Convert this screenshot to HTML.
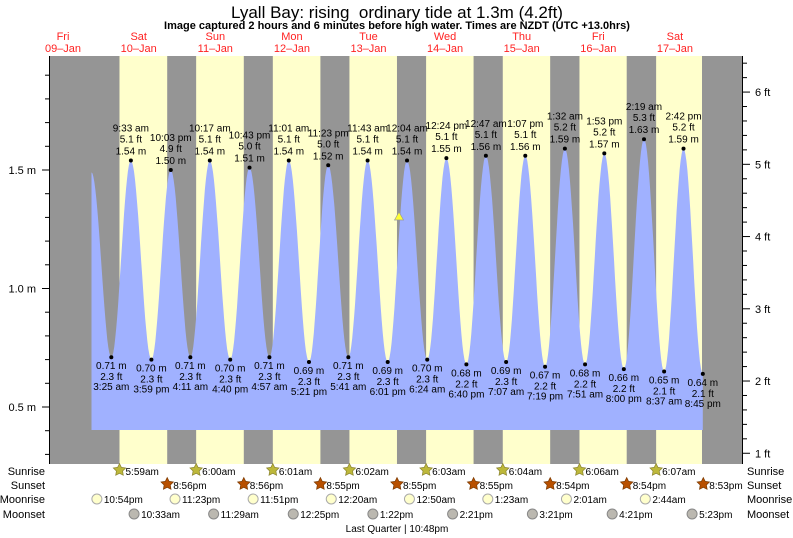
<!DOCTYPE html>
<html><head><meta charset="utf-8"><style>
body{margin:0;background:#fff;width:793px;height:538px;overflow:hidden}
svg{display:block;font-family:"Liberation Sans",sans-serif}
</style></head><body>
<svg id="s" width="793" height="538" xmlns="http://www.w3.org/2000/svg"></svg>
<script>
var S=document.getElementById('s');var h='';
var X0=100.4,PD=76.6;
function X(d,hr){return X0+d*PD+hr*PD/24;}
function Y(m){return 170+(1.5-m)*237;}
function t(x,y,s,o){o=o||{};h+='<text x="'+x+'" y="'+y+'" font-size="'+(o.fs||10)+'" fill="'+(o.c||'#000')+'" text-anchor="'+(o.a||'middle')+'"'+(o.b?' font-weight="bold"':'')+'>'+s+'</text>';}
h+='<rect x="50" y="56" width="692" height="408" fill="#959595"/>';
var sr=[5.98,6,6.02,6.03,6.05,6.07,6.1,6.12],ss=[20.93,20.93,20.93,20.92,20.92,20.92,20.9,20.9];
for(var d=0;d<8;d++){var a=X(d,sr[d]),b=Math.min(X(d,ss[d]),702);h+='<rect x="'+a+'" y="56" width="'+(b-a)+'" height="408" fill="#ffffcc"/>';}
var ex=[[-1,21.2,1.49],[0,3.42,.71],[0,9.55,1.54],[0,15.98,.70],[0,22.05,1.50],[1,4.18,.71],[1,10.28,1.54],[1,16.67,.70],[1,22.72,1.51],[2,4.95,.71],[2,11.02,1.54],[2,17.35,.69],[2,23.38,1.52],[3,5.68,.71],[3,11.72,1.54],[3,18.02,.69],[4,0.07,1.54],[4,6.4,.70],[4,12.4,1.55],[4,18.67,.68],[5,0.78,1.56],[5,7.12,.69],[5,13.12,1.56],[5,19.32,.67],[6,1.53,1.59],[6,7.85,.68],[6,13.88,1.57],[6,20,.66],[7,2.32,1.63],[7,8.62,.65],[7,14.7,1.59],[7,20.75,.64]];
var p='M'+X(ex[0][0],ex[0][1]).toFixed(1)+',430';
for(var i=0;i<ex.length-1;i++){var x1=X(ex[i][0],ex[i][1]),x2=X(ex[i+1][0],ex[i+1][1]),v1=ex[i][2],v2=ex[i+1][2];
for(var k=0;k<=20;k++){var f=k/20,x=x1+(x2-x1)*f,v=v1+(v2-v1)*(1-Math.cos(Math.PI*f))/2;p+=' L'+x.toFixed(1)+','+Y(v).toFixed(1);}}
p+=' L'+X(7,20.75).toFixed(1)+',430 Z';
h+='<path d="'+p+'" fill="#a0b1ff"/>';
var tm=['','3:25 am','9:33 am','3:59 pm','10:03 pm','4:11 am','10:17 am','4:40 pm','10:43 pm','4:57 am','11:01 am','5:21 pm','11:23 pm','5:41 am','11:43 am','6:01 pm','12:04 am','6:24 am','12:24 pm','6:40 pm','12:47 am','7:07 am','1:07 pm','7:19 pm','1:32 am','7:51 am','1:53 pm','8:00 pm','2:19 am','8:37 am','2:42 pm','8:45 pm'];
for(var i=1;i<ex.length;i++){var x=X(ex[i][0],ex[i][1]),v=ex[i][2],y=Y(v),ft=(v/0.3048).toFixed(1);
h+='<circle cx="'+x+'" cy="'+y+'" r="2" fill="#000"/>';
if(v>1){t(x,y-29,tm[i]);t(x,y-18,ft+' ft');t(x,y-6,v.toFixed(2)+' m');}
else{t(x,y+12,v.toFixed(2)+' m');t(x,y+23,ft+' ft');t(x,y+33,tm[i]);}}
h+='<polygon points="399,212 394.5,220 403.5,220" fill="#ffff33" stroke="#999" stroke-width="0.7"/>';
h+='<line x1="49.5" y1="56" x2="49.5" y2="464" stroke="#000"/><line x1="742.5" y1="56" x2="742.5" y2="464" stroke="#000"/>';
for(var m=0.3;m<=1.95;m+=0.1){var y=Y(m);if(y<56||y>464)continue;h+='<line x1="45" y1="'+y+'" x2="49" y2="'+y+'" stroke="#000"/>';}
[[1.5,'1.5 m'],[1.0,'1.0 m'],[0.5,'0.5 m']].forEach(function(a){var y=Y(a[0]);h+='<line x1="42" y1="'+y+'" x2="49" y2="'+y+'" stroke="#000"/>';t(36,y+4,a[1],{fs:11,a:'end'});});
for(var f=0.8;f<=6.5;f+=0.2){var y=Y(f*0.3048);if(y<56||y>464)continue;var maj=Math.abs(f-Math.round(f))<0.01;
h+='<line x1="743" y1="'+y+'" x2="'+(maj?750:747)+'" y2="'+y+'" stroke="#000"/>';if(maj)t(755,y+4,Math.round(f)+' ft',{fs:11,a:'start'});}
t(397,18,'Lyall Bay: rising&#160; ordinary tide at 1.3m (4.2ft)',{fs:17});
t(397,29,'Image captured 2 hours and 6 minutes before high water. Times are NZDT (UTC +13.0hrs)',{fs:11,b:1});
var dn=['Fri','Sat','Sun','Mon','Tue','Wed','Thu','Fri','Sat'];
for(var d=0;d<9;d++){var x=X(d-1,12);if(d==0)x=63;t(x,40,dn[d],{fs:11,c:'#f22'});t(x,52,('0'+(9+d)).slice(-2)+'&#8211;Jan',{fs:11,c:'#f22'});}
[['Sunrise',475],['Sunset',489],['Moonrise',503],['Moonset',518]].forEach(function(a){t(45,a[1],a[0],{fs:11,a:'end'});t(747,a[1],a[0],{fs:11,a:'start'});});
function star(cx,cy,r,c,sc){var q='';for(var i=0;i<10;i++){var rr=i%2?r*0.5:r,an=-Math.PI/2+i*Math.PI/5;q+=(cx+rr*Math.cos(an)).toFixed(1)+','+(cy+rr*Math.sin(an)).toFixed(1)+' ';}h+='<polygon points="'+q+'" fill="'+c+'" stroke="'+sc+'" stroke-width="0.7"/>';}
var srt=['5:59am','6:00am','6:01am','6:02am','6:03am','6:04am','6:06am','6:07am'];
for(var d=0;d<8;d++){var x=X(d,sr[d]);star(x,470,6.5,'#bdb83a','#8a8430');t(x+6,475,srt[d],{fs:10,a:'start'});}
var sst=['8:56pm','8:56pm','8:55pm','8:55pm','8:55pm','8:54pm','8:54pm','8:53pm'];
for(var d=0;d<8;d++){var x=X(d,ss[d]);star(x,484,6.5,'#b85000','#7a3a00');t(x+6,489,sst[d],{fs:10,a:'start'});}
var mr=[[-1,22.9,'10:54pm'],[0,23.38,'11:23pm'],[1,23.85,'11:51pm'],[3,0.33,'12:20am'],[4,0.83,'12:50am'],[5,1.38,'1:23am'],[6,2.02,'2:01am'],[7,2.73,'2:44am']];
mr.forEach(function(a){var x=X(a[0],a[1]);h+='<circle cx="'+x+'" cy="'+499+'" r="5" fill="#ffffcc" stroke="#aaa"/>';t(x+7,503,a[2],{fs:10,a:'start'});});
var ms=[[0,10.55,'10:33am'],[1,11.48,'11:29am'],[2,12.42,'12:25pm'],[3,13.37,'1:22pm'],[4,14.35,'2:21pm'],[5,15.35,'3:21pm'],[6,16.35,'4:21pm'],[7,17.38,'5:23pm']];
ms.forEach(function(a){var x=X(a[0],a[1]);h+='<circle cx="'+x+'" cy="'+514+'" r="5" fill="#bbb8b0" stroke="#888"/>';t(x+7,518,a[2],{fs:10,a:'start'});});
t(397,532,'Last Quarter | 10:48pm',{fs:10});
S.innerHTML=h;
</script>
</body></html>
